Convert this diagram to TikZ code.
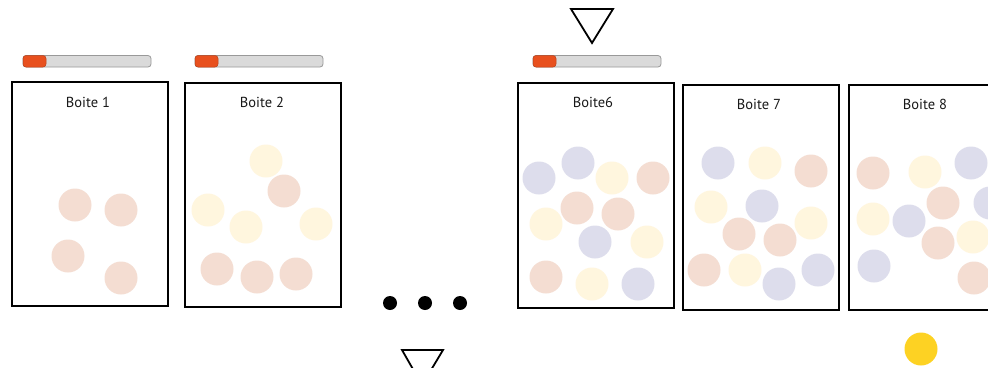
\documentclass[tikz,border=0pt]{standalone}
\usepackage{fontspec}
\setmainfont{PT Sans}
\definecolor{cpink}{RGB}{244,221,210}
\definecolor{cyel}{RGB}{255,246,222}
\definecolor{cpur}{RGB}{221,221,236}
\definecolor{corange}{RGB}{232,80,30}
\definecolor{cgray}{RGB}{218,218,218}
\definecolor{cgold}{RGB}{253,210,35}
\tikzset{
  boxframe/.style={draw=black,line width=2pt},
  boxlabel/.style={font=\fontsize{14.5}{16}\selectfont,inner sep=0pt,text=black!90},
  P/.style={fill=cpink},
  Y/.style={fill=cyel},
  U/.style={fill=cpur},
  sliderbar/.style={fill=cgray,draw=gray!80,line width=0.8pt,rounded corners=3pt},
  sliderknob/.style={fill=corange,draw=corange!80!black,line width=0.5pt,rounded corners=3pt},
  marker/.style={draw=black,line width=1.8pt,line join=miter},
}
\newcommand{\ball}[3]{\fill[#1] (#2,#3) circle (16.5);}
\newcommand{\slider}[3]{%
  \draw[sliderbar] (#1,55.5) rectangle (#2,67);
  \draw[sliderknob] (#1,55.5) rectangle (#3,67);}
\begin{document}
\begin{tikzpicture}[x=1pt,y=-1pt]
\useasboundingbox (0,0) rectangle (988,367);
\clip (0,0) rectangle (988,367);
\fill[white] (0,0) rectangle (988,367);
% sliders
\slider{23}{151}{46}
\slider{195}{323}{218}
\slider{533}{661}{556}
% top marker
\draw[marker] (571,9) -- (613,9) -- (592,43) -- cycle;
% box 1
\draw[boxframe] (12,82) rectangle (168,306);
\node[boxlabel] (l1) at (88,102) {Boite 1};
\ball{P}{75}{205}\ball{P}{121}{210}\ball{P}{68}{256}\ball{P}{121}{278}
% box 2
\draw[boxframe] (185,83) rectangle (341,307);
\node[boxlabel] (l2) at (262,102) {Boite 2};
\ball{Y}{266}{161}\ball{P}{284}{191}\ball{Y}{208}{210}\ball{Y}{246}{227}
\ball{Y}{316}{224}\ball{P}{217}{269}\ball{P}{257}{277}\ball{P}{296}{274}
% dots
\foreach \x in {390,425,460} \fill[black] (\x,303) circle (7);
% bottom marker
\draw[marker] (402,350) -- (443,350) -- (422,385) -- cycle;
% box 6
\draw[boxframe] (518,83) rectangle (674,308);
\node[boxlabel] (l6) at (593,102) {Boite6};
\ball{U}{539}{178}\ball{U}{578}{163}\ball{Y}{612}{178}\ball{P}{653}{178}
\ball{Y}{546}{224}\ball{P}{577}{208}\ball{P}{618}{214}\ball{U}{595}{242}
\ball{Y}{647}{242}\ball{P}{546}{277}\ball{Y}{592}{284}\ball{U}{638}{284}
% box 7
\draw[boxframe] (683,85) rectangle (839,310);
\node[boxlabel] (l7) at (759,104) {Boite 7};
\ball{U}{718}{163}\ball{Y}{765}{163}\ball{P}{811}{171}\ball{Y}{711}{207}
\ball{U}{762}{206}\ball{Y}{811}{223}\ball{P}{739}{234}\ball{P}{780}{240}
\ball{P}{704}{270}\ball{Y}{745}{270}\ball{U}{779}{284}\ball{U}{818}{270}
% box 8
\draw[boxframe] (849,85) rectangle (1005,310);
\node[boxlabel] (l8) at (925,104) {Boite 8};
\ball{P}{873}{173}\ball{Y}{925}{172}\ball{U}{971}{163}\ball{P}{943}{203}
\ball{U}{990}{203}\ball{Y}{873}{219}\ball{U}{909}{221}\ball{P}{938}{243}
\ball{Y}{973}{237}\ball{U}{874}{266}\ball{P}{974}{278}
% gold ball
\fill[cgold] (921,349) circle (16.5);
\end{tikzpicture}
\end{document}
